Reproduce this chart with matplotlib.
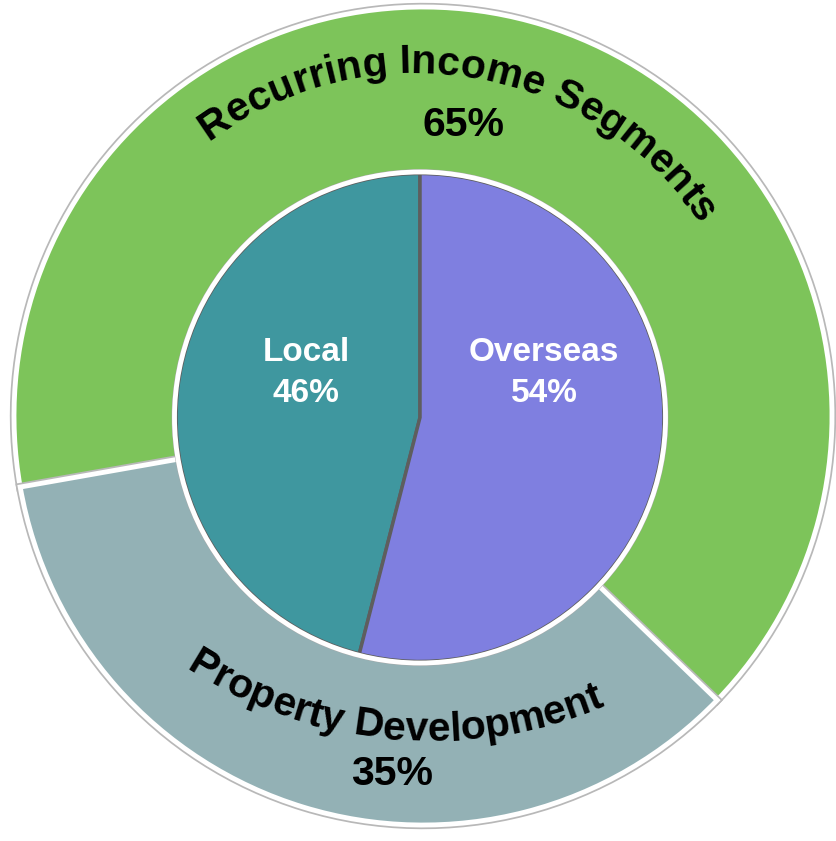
import numpy as np
import matplotlib
matplotlib.use('Agg')
import matplotlib.pyplot as plt
import matplotlib.patheffects as pe
from matplotlib.patches import Circle
from matplotlib.font_manager import FontProperties, findfont, get_font

# ---- data ----
outer_labels = ['Recurring Income Segments', 'Property Development']
outer_values = [65, 35]
inner_labels = ['Local', 'Overseas']
inner_values = [46, 54]

outer_colors = ['#7DC45A', '#93B1B5']
inner_colors = ['#3F979F', '#7F7FE0']

W, H = 837, 841
fig = plt.figure(figsize=(W / 100, H / 100), dpi=100)
ax = fig.add_axes([0, 0, 1, 1])

FAMILY = ['Liberation Sans', 'DejaVu Sans']

# ---- outer ring ----
ring_c = (423, 425)
R_out = 409
outer_wedges, _ = ax.pie(
    outer_values, center=ring_c, radius=R_out, startangle=-44,
    counterclock=True, colors=outer_colors, explode=[0, 0.028],
    wedgeprops=dict(width=R_out - 238, edgecolor='white', linewidth=3.5),
    frame=True)
for w in outer_wedges:
    w.set_path_effects([pe.Stroke(linewidth=6, foreground='#b8b8b8'), pe.Normal()])

# ---- inner pie ----
pie_c = (420, 423.5)
R_in = 244
inner_wedges, _ = ax.pie(
    inner_values, center=pie_c, radius=R_in, startangle=90,
    counterclock=True, colors=inner_colors,
    wedgeprops=dict(edgecolor='#5E5E5E', linewidth=2.5),
    frame=True)
ax.add_patch(Circle(pie_c, R_in + 3.5, fill=False, ec='#a8a8a8', lw=1.2, zorder=3))
ax.add_patch(Circle(pie_c, R_in + 1.5, fill=False, ec='white', lw=3.5, zorder=3))

ax.set_xlim(0, W)
ax.set_ylim(0, H)
ax.set_aspect('equal')
ax.axis('off')

# ---- inner labels ----
ax.text(306, H - 373, f"{inner_labels[0]}\n{inner_values[0]}%", ha='center', va='center',
        color='white', fontsize=24, fontweight='bold', family=FAMILY, linespacing=1.42, zorder=5)
ax.text(544, H - 373, f"{inner_labels[1]}\n{inner_values[1]}%", ha='center', va='center',
        color='white', fontsize=24, fontweight='bold', family=FAMILY, linespacing=1.42, zorder=5)

# ---- curved outer labels ----
FS = 29.5
fp = FontProperties(family=FAMILY, weight='bold', size=FS)
font = get_font(findfont(fp))
font.set_size(FS, 100)


def advances(s):
    return [font.load_char(ord(ch)).linearHoriAdvance / 65536 for ch in s]


def arc_text(s, center, r, mid_deg, top=True):
    adv = np.array(advances(s))
    total = adv.sum()
    pos = np.concatenate([[0], np.cumsum(adv)[:-1]]) + adv / 2 - total / 2
    for ch, p in zip(s, pos):
        if ch == ' ':
            continue
        if top:
            th = np.deg2rad(mid_deg) - p / r
            rot = np.rad2deg(th) - 90
        else:
            th = np.deg2rad(mid_deg) + p / r
            rot = np.rad2deg(th) + 90
        x = center[0] + r * np.cos(th)
        y = center[1] + r * np.sin(th)
        ax.text(x, y, ch, rotation=rot, rotation_mode='anchor', ha='center',
                va='baseline', fontsize=FS, fontweight='bold', family=FAMILY,
                color='black', zorder=6)


arc_text(outer_labels[0], (414, H - 417), 344, 80.3, top=True)
arc_text(outer_labels[1], (430, H - 290), 451, -95, top=False)

ax.text(464, H - 136, f"{outer_values[0]}%", ha='center', va='baseline', fontsize=FS,
        fontweight='bold', family=FAMILY, color='black', zorder=6)
ax.text(392.5, H - 785, f"{outer_values[1]}%", ha='center', va='baseline', fontsize=FS,
        fontweight='bold', family=FAMILY, color='black', zorder=6)

fig.savefig('out.png', dpi=100, facecolor='white')
